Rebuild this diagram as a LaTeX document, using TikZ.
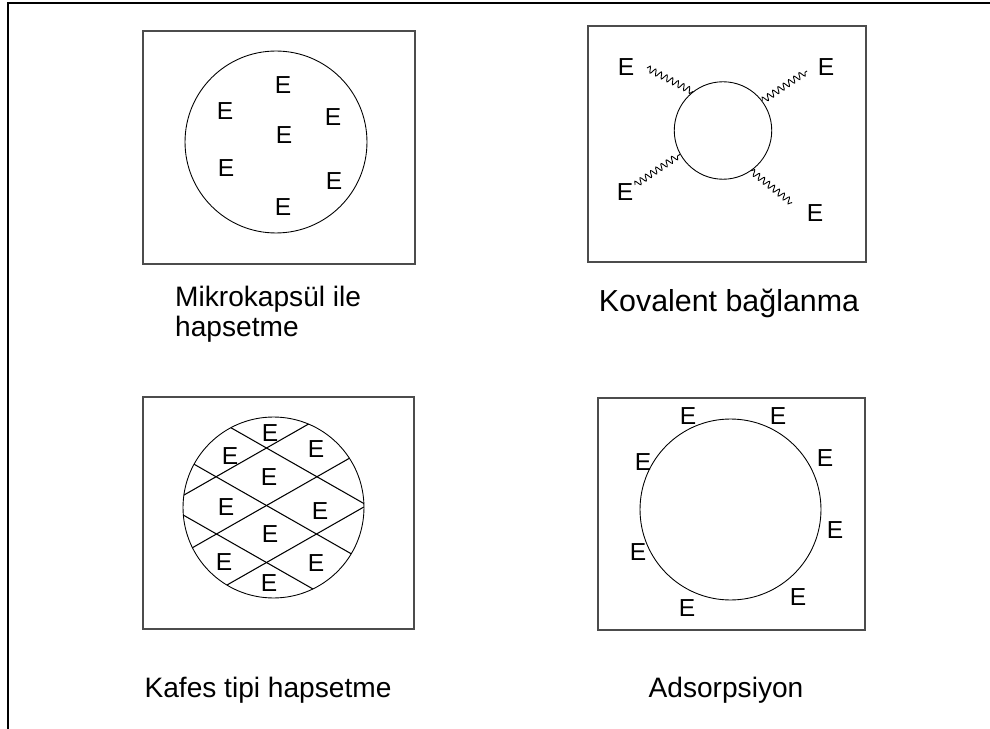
\documentclass[tikz,border=0pt]{standalone}
\usepackage{fontspec}
\setmainfont{Liberation Sans}
\usetikzlibrary{decorations.pathmorphing,positioning}

\begin{document}
\begin{tikzpicture}[x=0.02cm, y=-0.02cm,
  outline/.style={draw=black, line width=1.1pt},
  panel/.style={draw=black!70, line width=0.8pt},
  bead/.style={draw, circle, inner sep=0pt, line width=0.5pt},
  enz/.style={inner sep=0pt, font=\fontsize{14}{16}\selectfont},
  lbl/.style={font=\fontsize{16}{17}\selectfont, align=left},
  link/.style={decorate, decoration={snake, segment length=3.6pt, amplitude=1.8pt}, line width=0.5pt},
  mesh/.style={line width=0.6pt}]
\useasboundingbox (0,0) rectangle (990,729);
\draw[outline] (990,3) -- (8,3) -- (8,729);

% microcapsule
\draw[panel] (143,31) rectangle (415,264);
\node[bead, minimum size=3.64cm] (c1) at (276,142) {};
\node[enz] (e11) at (283,85) {E};
\node[enz] (e12) at (225,111) {E};
\node[enz] (e13) at (333,117) {E};
\node[enz] (e14) at (284,135) {E};
\node[enz] (e15) at (226,168) {E};
\node[enz] (e16) at (334,181) {E};
\node[enz] (e17) at (283,207) {E};
\node[lbl, anchor=west] (t1) at (169,314) {Mikrokapsül ile\\hapsetme};

% covalent binding
\draw[panel] (588,26) rectangle (866,262);
\node[bead, minimum size=1.95cm] (c2) at (723,130.5) {};
\node[enz] (e21) at (626,67) {E};
\node[enz] (e22) at (826,67) {E};
\node[enz] (e23) at (625,192) {E};
\node[enz] (e24) at (815,213) {E};
\coordinate (w21) at (647,68);
\coordinate (w22) at (807,71);
\coordinate (w23) at (635,185);
\coordinate (w24) at (792,203);
\draw[link] (w21) -- (c2.128);
\draw[link] (c2.37) -- (w22);
\draw[link] (w23) -- (c2.209);
\draw[link] (c2.305) -- (w24);
\node[lbl, font=\fontsize{17.3}{20}\selectfont] (t2) at (729,303) {Kovalent bağlanma};

% lattice entrapment
\draw[panel] (143,397) rectangle (414,629);
\node[bead, minimum size=3.62cm] (c3) at (273.5,507.5) {};
\begin{scope}
\clip (273.5,507.5) circle[radius=90.5];
\draw[mesh] (146.5,379.6) -- (386.5,516.4);
\draw[mesh] (146.5,437.1) -- (386.5,573.9);
\draw[mesh] (146.5,494.1) -- (386.5,630.9);
\draw[mesh] (146.5,516.4) -- (386.5,379.6);
\draw[mesh] (146.5,573.9) -- (386.5,437.1);
\draw[mesh] (146.5,630.9) -- (386.5,494.1);
\end{scope}
\node[enz] (e31) at (270,433) {E};
\node[enz] (e32) at (230,456) {E};
\node[enz] (e33) at (316,449) {E};
\node[enz] (e34) at (269,477) {E};
\node[enz] (e35) at (226,507) {E};
\node[enz] (e36) at (320,511) {E};
\node[enz] (e37) at (270,534) {E};
\node[enz] (e38) at (224,562) {E};
\node[enz] (e39) at (316,563) {E};
\node[enz] (e310) at (269,583) {E};
\node[lbl] (t3) at (268,690) {Kafes tipi hapsetme};

% adsorption
\draw[panel] (598,398) rectangle (865,630);
\node[bead, minimum size=3.62cm] (c4) at (730.5,509.5) {};
\node[enz] (e41) at (688,416) {E};
\node[enz] (e42) at (778,416) {E};
\node[enz] (e43) at (825,458) {E};
\node[enz] (e44) at (643,462) {E};
\node[enz] (e45) at (835,530) {E};
\node[enz] (e46) at (638,552) {E};
\node[enz] (e47) at (798,597) {E};
\node[enz] (e48) at (687,608) {E};
\node[lbl] (t4) at (726,690) {Adsorpsiyon};
\end{tikzpicture}
\end{document}
